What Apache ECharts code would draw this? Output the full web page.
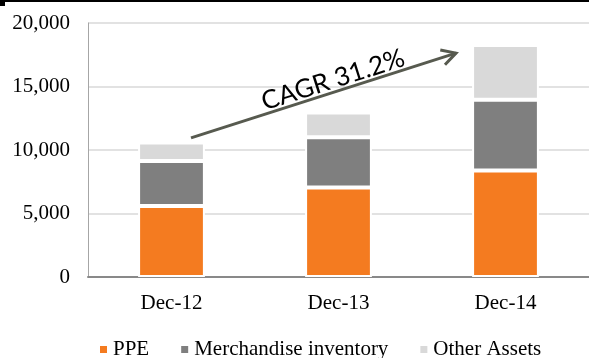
<!DOCTYPE html>
<html>
<head>
<meta charset="utf-8">
<script src="https://cdn.jsdelivr.net/npm/echarts@6/dist/echarts.min.js"></script>
<style>
  html, body { margin: 0; padding: 0; background: #fff; }
  #chart { width: 589px; height: 358px; }
</style>
</head>
<body>
<div id="chart"></div>
<script>
// Balance-sheet asset mix by year-end
const categories = ['Dec-12', 'Dec-13', 'Dec-14'];
const ppe = [5600, 7050, 8380];
const inventory = [3540, 3950, 5580];
const otherAssets = [1460, 1950, 4300];
const yTicks = [0, 5000, 10000, 15000, 20000];
const cagrLabel = 'CAGR 31.2%';

const serif = '"Liberation Serif", "Times New Roman", serif';
const chart = echarts.init(document.getElementById('chart'), null, { renderer: 'canvas' });

const segStyle = (color) => ({ color: color, borderColor: '#ffffff', borderWidth: 2 });

chart.setOption({
  animation: false,
  backgroundColor: '#ffffff',
  grid: { left: 88, right: 0, top: 23, bottom: 81, containLabel: false },
  legend: {
    left: 98, top: 339, padding: 0,
    icon: 'rect', itemWidth: 9, itemHeight: 9, itemGap: 30,
    textStyle: { fontFamily: serif, fontSize: 21, color: '#000' },
    data: ['PPE', 'Merchandise inventory', 'Other Assets']
  },
  xAxis: {
    type: 'category',
    data: categories,
    axisTick: { show: false },
    axisLine: { lineStyle: { color: '#898989', width: 2 } },
    axisLabel: { fontFamily: serif, fontSize: 21, color: '#000', margin: 16 }
  },
  yAxis: {
    type: 'value',
    min: yTicks[0], max: yTicks[yTicks.length - 1], interval: yTicks[1] - yTicks[0],
    axisLine: { show: true, lineStyle: { color: '#a6a6a6', width: 1 } },
    axisTick: { show: false },
    splitLine: { lineStyle: { color: '#d9d9d9', width: 1.5 } },
    axisLabel: {
      fontFamily: serif, fontSize: 21, color: '#000', margin: 18,
      formatter: (v) => v.toLocaleString('en-US')
    }
  },
  series: [
    { name: 'PPE', type: 'bar', stack: 'assets', barWidth: '40%', data: ppe, itemStyle: segStyle('#F47B20') },
    { name: 'Merchandise inventory', type: 'bar', stack: 'assets', data: inventory, itemStyle: segStyle('#7F7F7F') },
    { name: 'Other Assets', type: 'bar', stack: 'assets', data: otherAssets, itemStyle: segStyle('#D9D9D9') }
  ]
});

// Growth arrow from above the first bar to beside the last one, with its rotated label
function drawArrow() {
  const p0 = chart.convertToPixel({ xAxisIndex: 0, yAxisIndex: 0 }, [categories[0], 10950]);
  const p1 = chart.convertToPixel({ xAxisIndex: 0, yAxisIndex: 0 }, [categories[2], 17630]);
  const x0 = p0[0] + 19.5, y0 = p0[1];
  const x1 = p1[0] - 49.5, y1 = p1[1];
  const ang = Math.atan2(y1 - y0, x1 - x0);
  const head = 16, spread = 0.5;
  const hA = [x1 - head * Math.cos(ang - spread), y1 - head * Math.sin(ang - spread)];
  const hB = [x1 - head * Math.cos(ang + spread), y1 - head * Math.sin(ang + spread)];
  const arrowColor = '#575a4f';
  // label sits just above the shaft, a little past its midpoint
  const t = 0.55, lift = 12;
  const lx = x0 + (x1 - x0) * t + lift * Math.sin(ang);
  const ly = y0 + (y1 - y0) * t - lift * Math.cos(ang);
  chart.setOption({
    graphic: [
      { type: 'rect', shape: { x: 0, y: 0, width: 589, height: 2 }, style: { fill: '#000' }, z: 100 },
      { type: 'rect', shape: { x: 0, y: 0, width: 5, height: 6 }, style: { fill: '#000' }, z: 100 },
      { type: 'line', shape: { x1: x0, y1: y0, x2: x1, y2: y1 },
        style: { stroke: arrowColor, lineWidth: 3 }, z: 50 },
      { type: 'polyline', shape: { points: [hA, [x1, y1], hB] },
        style: { stroke: arrowColor, lineWidth: 3, fill: null }, z: 50 },
      { type: 'text', x: lx, y: ly, rotation: -ang,
        style: { text: cagrLabel, fontFamily: 'Lato, "Liberation Sans", sans-serif', fontSize: 26,
                 fill: '#000', align: 'center', verticalAlign: 'middle' }, z: 60 }
    ]
  });
}
drawArrow();
</script>
</body>
</html>
